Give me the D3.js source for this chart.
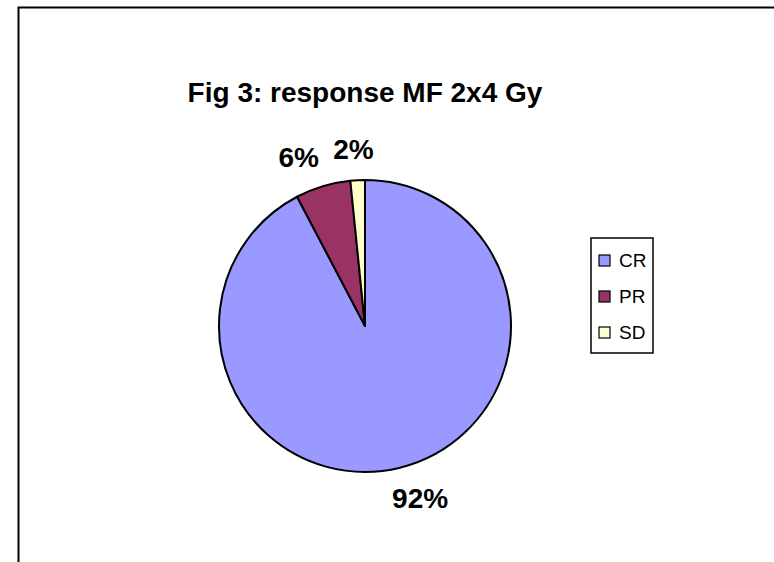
<!DOCTYPE html>
<html>
<head>
<meta charset="utf-8">
<script src="https://cdn.jsdelivr.net/npm/d3@7"></script>
<style>
  body { margin: 0; background: #fff; }
  text { font-family: "Liberation Sans", Arial, sans-serif; }
</style>
</head>
<body>
<div id="chart"></div>
<script>
var categories = ["CR", "PR", "SD"];
var values = [92.3, 6.1, 1.6];
var colors = ["#9999FF", "#993366", "#FFFFCC"];
var title = "Fig 3: response MF 2x4 Gy";

var width = 774, height = 562;
var cx = 365, cy = 326, radius = 146;

var svg = d3.select("#chart").append("svg")
  .attr("width", width)
  .attr("height", height);

svg.append("rect")
  .attr("width", width).attr("height", height)
  .attr("fill", "#fff");

// chart frame, runs past right and bottom edge
svg.append("rect")
  .attr("x", 18.5).attr("y", 7.5)
  .attr("width", 900).attr("height", 700)
  .attr("fill", "none")
  .attr("stroke", "#000")
  .attr("stroke-width", 2);

svg.append("text")
  .attr("x", cx).attr("y", 102)
  .attr("text-anchor", "middle")
  .attr("font-size", 28)
  .attr("font-weight", "bold")
  .text(title);

var data = categories.map(function(c, i) { return {name: c, value: values[i], color: colors[i]}; });

var pie = d3.pie().sort(null).value(d => d.value);
var arcs = pie(data);

var arc = d3.arc().innerRadius(0).outerRadius(radius);
var labelArc = d3.arc().innerRadius(177).outerRadius(177);

var g = svg.append("g").attr("transform", `translate(${cx},${cy})`);

g.selectAll("path")
  .data(arcs)
  .enter()
  .append("path")
  .attr("d", arc)
  .attr("fill", d => d.data.color)
  .attr("stroke", "#000")
  .attr("stroke-width", 2)
  .attr("stroke-linejoin", "round");

// labels sit outside the rim, pushed sideways to clear their own width
var total = d3.sum(values);
g.selectAll("text.lbl")
  .data(arcs)
  .enter()
  .append("text")
  .attr("class", "lbl")
  .attr("transform", d => {
    var c = labelArc.centroid(d);
    return `translate(${c[0] * 1.3},${c[1]})`;
  })
  .attr("text-anchor", "middle")
  .attr("dy", "0.36em")
  .attr("font-size", 28)
  .attr("font-weight", "bold")
  .text(d => Math.round(d.data.value / total * 100) + "%");

// legend
var legend = svg.append("g").attr("transform", "translate(591,238)");
legend.append("rect")
  .attr("width", 62).attr("height", 115)
  .attr("fill", "#fff")
  .attr("stroke", "#000")
  .attr("stroke-width", 1.5);

var items = legend.selectAll("g")
  .data(data)
  .enter()
  .append("g")
  .attr("transform", (d, i) => `translate(8,${17 + i * 36})`);

items.append("rect")
  .attr("width", 11).attr("height", 11)
  .attr("fill", d => d.color)
  .attr("stroke", "#000")
  .attr("stroke-width", 1.2);

items.append("text")
  .attr("x", 20).attr("y", 12)
  .attr("font-size", 19)
  .text(d => d.name);
</script>
</body>
</html>
